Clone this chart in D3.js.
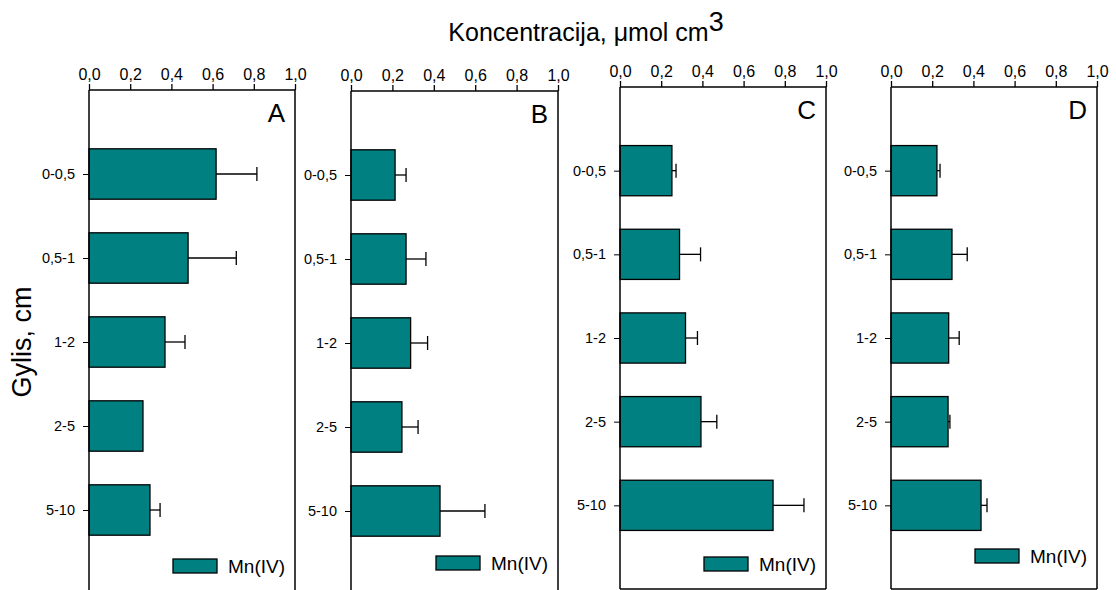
<html>
<head>
<script src="https://d3js.org/d3.v7.min.js"></script>
<style>
  body { margin: 0; background: #fff; }
  text { font-family: Arial, "Liberation Sans", sans-serif; fill: #000; }
</style>
</head>
<body>
<svg width="1116" height="590"></svg>
<script>
// depth categories (shared by all panels)
var depths = ["0-0,5", "0,5-1", "1-2", "2-5", "5-10"];
var panelNames = ["A", "B", "C", "D"];
var xTicks = [0, 0.2, 0.4, 0.6, 0.8, 1.0];

// Mn(IV) concentration and upper error value, per panel
var mnA = [0.617, 0.481, 0.369, 0.262, 0.296];
var errA = [0.815, 0.715, 0.466, 0.262, 0.345];
var mnB = [0.213, 0.266, 0.288, 0.246, 0.43];
var errB = [0.266, 0.362, 0.37, 0.324, 0.647];
var mnC = [0.252, 0.289, 0.318, 0.393, 0.743];
var errC = [0.272, 0.391, 0.376, 0.47, 0.893];
var mnD = [0.223, 0.296, 0.28, 0.277, 0.437];
var errD = [0.238, 0.37, 0.331, 0.286, 0.466];

var allMn = [mnA, mnB, mnC, mnD];
var allErr = [errA, errB, errC, errD];

// layout of each panel box
var boxes = [
  {left: 89, right: 295, top: 90, bottom: 594, legY: 559},
  {left: 351, right: 558, top: 91, bottom: 595, legY: 556},
  {left: 620, right: 826, top: 87, bottom: 589, legY: 557},
  {left: 891, right: 1097, top: 87, bottom: 589, legY: 549}
];

var svg = d3.select("svg");
var fmt = function(d) { return d3.format(".1f")(d).replace(".", ","); };

boxes.forEach(function(b, p) {
  var xs = d3.scaleLinear().domain([0, 1]).range([b.left, b.right]);
  var ys = d3.scalePoint().domain(depths).range([b.top, b.bottom]).padding(1);
  var bh = ys.step() * 0.6;
  var g = svg.append("g");

  // frame: top, right, bottom
  g.append("line").attr("x1", b.left).attr("x2", b.right).attr("y1", b.top).attr("y2", b.top)
    .attr("stroke", "#000").attr("stroke-width", 1.5);
  g.append("line").attr("x1", b.right).attr("x2", b.right).attr("y1", b.top).attr("y2", b.bottom)
    .attr("stroke", "#000").attr("stroke-width", 1.5);
  g.append("line").attr("x1", b.left).attr("x2", b.right).attr("y1", b.bottom).attr("y2", b.bottom)
    .attr("stroke", "#000").attr("stroke-width", 1.5);

  // error bars
  var data = depths.map(function(d, i) { return {d: d, v: allMn[p][i], e: allErr[p][i]}; });
  var withErr = data.filter(function(d) { return d.e > d.v; });
  var eg = g.append("g");
  eg.selectAll("line.err").data(withErr).enter().append("line")
    .attr("x1", function(d) { return xs(d.v); })
    .attr("x2", function(d) { return xs(d.e); })
    .attr("y1", function(d) { return ys(d.d); })
    .attr("y2", function(d) { return ys(d.d); })
    .attr("stroke", "#000").attr("stroke-width", 1.3);
  eg.selectAll("line.cap").data(withErr).enter().append("line")
    .attr("x1", function(d) { return xs(d.e); })
    .attr("x2", function(d) { return xs(d.e); })
    .attr("y1", function(d) { return ys(d.d) - 7; })
    .attr("y2", function(d) { return ys(d.d) + 7; })
    .attr("stroke", "#000").attr("stroke-width", 1.3);

  // bars
  g.selectAll("rect.bar").data(data).enter().append("rect")
    .attr("x", xs(0))
    .attr("y", function(d) { return ys(d.d) - bh / 2; })
    .attr("width", function(d) { return xs(d.v) - xs(0); })
    .attr("height", bh)
    .attr("fill", "#008080").attr("stroke", "#000").attr("stroke-width", 1.3);

  // axes
  var ya = g.append("g").attr("transform", "translate(" + b.left + ",0)")
    .call(d3.axisLeft(ys).tickSize(6).tickPadding(8));
  ya.select(".domain").attr("d", "M0," + b.top + "V" + b.bottom).attr("stroke-width", 1.5);
  ya.selectAll("text").style("font-size", "14.5px").attr("font-family", null);

  var xa = g.append("g").attr("transform", "translate(0," + b.top + ")")
    .call(d3.axisTop(xs).tickValues(xTicks).tickFormat(fmt).tickSize(6).tickPadding(4));
  xa.select(".domain").remove();
  xa.selectAll("line").attr("stroke-width", 1.3);
  xa.selectAll("text").style("font-size", "16px").attr("font-family", null);

  // panel letter
  g.append("text").attr("x", b.right - 10).attr("y", b.top + 32)
    .attr("text-anchor", "end").style("font-size", "26px").text(panelNames[p]);

  // legend
  var lx = b.right - 122;
  g.append("rect").attr("x", lx).attr("y", b.legY).attr("width", 44).attr("height", 14)
    .attr("fill", "#008080").attr("stroke", "#000").attr("stroke-width", 1.3);
  g.append("text").attr("x", lx + 55).attr("y", b.legY + 14)
    .style("font-size", "19px").text("Mn(IV)");
});

// titles
var t = svg.append("text").attr("x", 586).attr("y", 41).attr("text-anchor", "middle")
  .style("font-size", "25px");
t.append("tspan").text("Koncentracija, \u03bcmol cm");
t.append("tspan").attr("dy", -10).style("font-size", "27px").text("3");

svg.append("text").attr("transform", "translate(31,342) rotate(-90)")
  .attr("text-anchor", "middle").style("font-size", "27px").text("Gylis, cm");
</script>
</body>
</html>
